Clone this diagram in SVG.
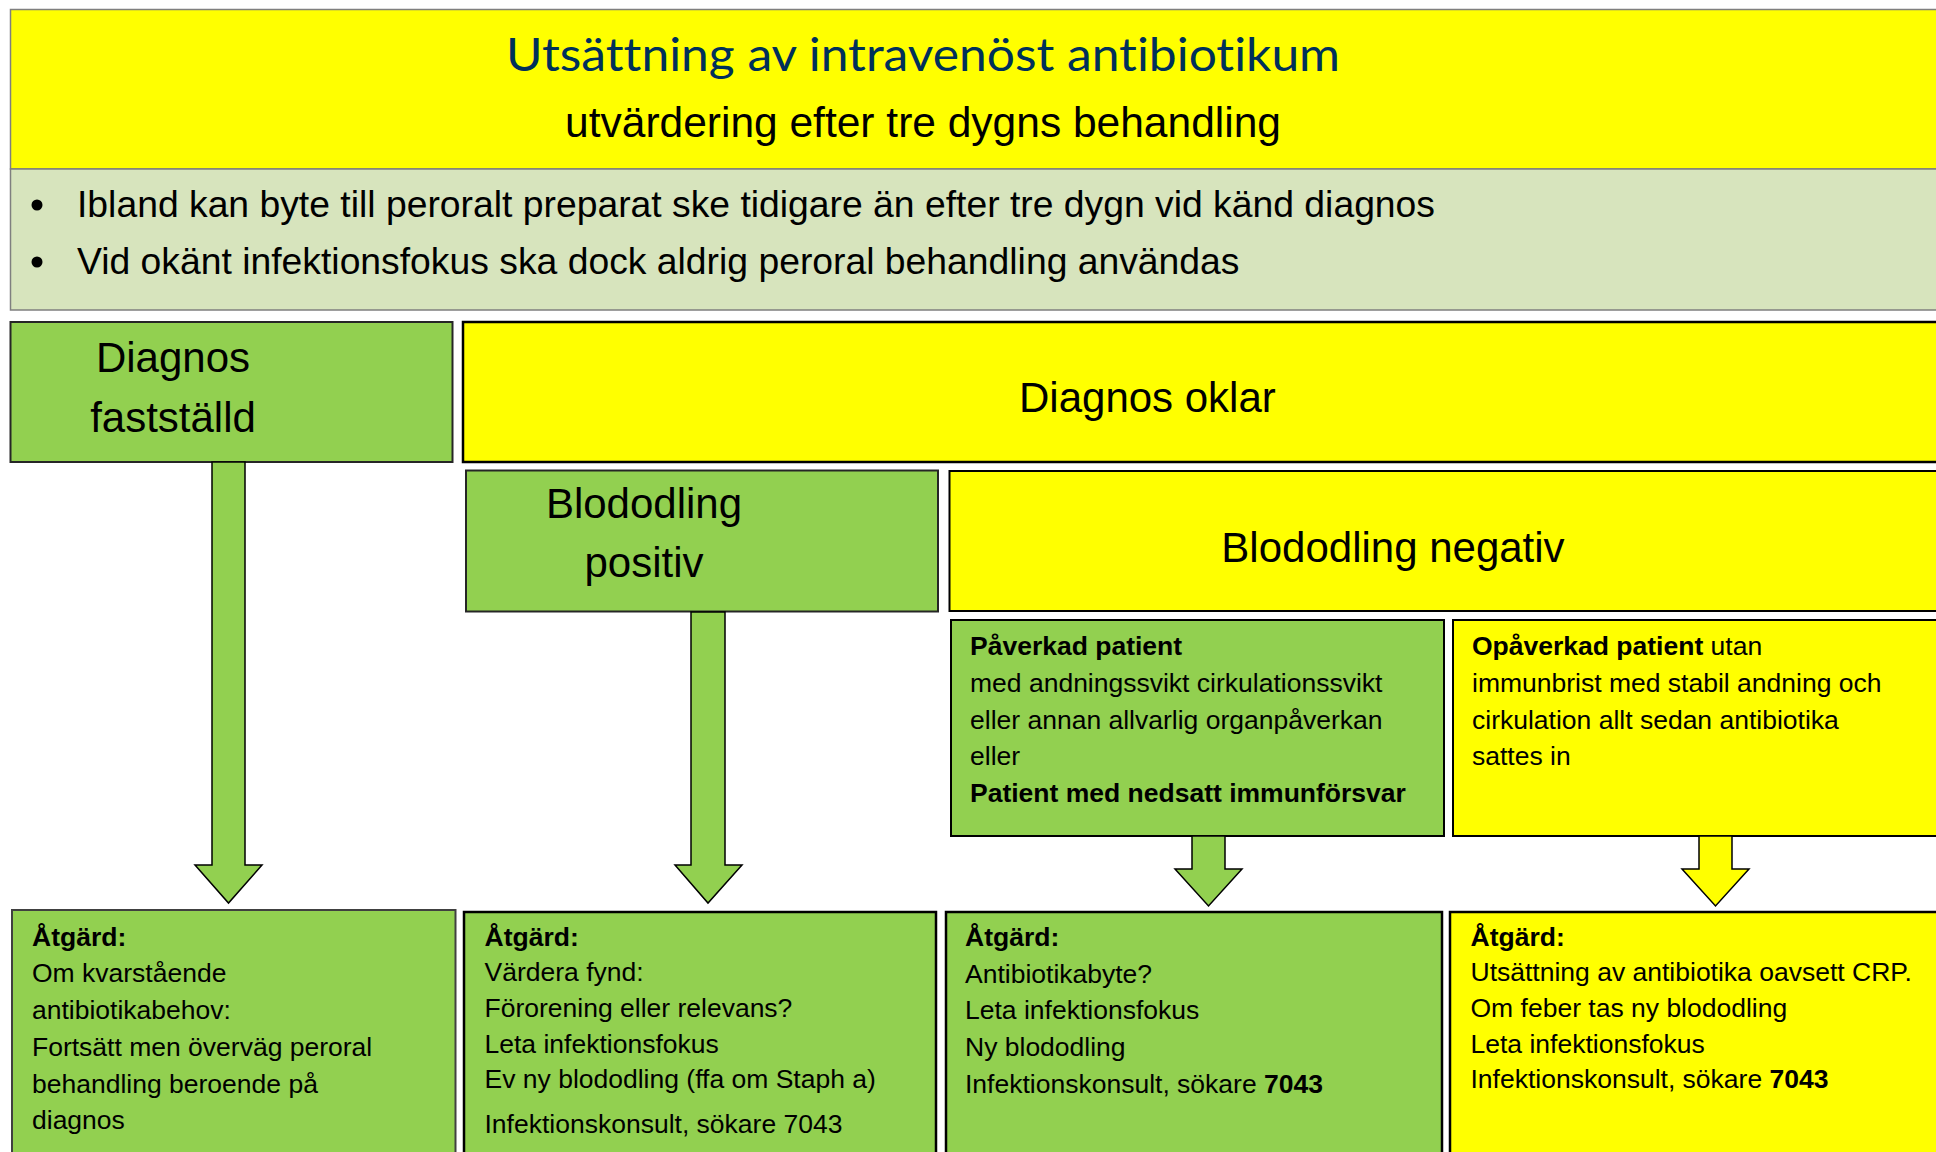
<svg xmlns="http://www.w3.org/2000/svg" width="1936" height="1152" viewBox="0 0 1936 1152">
<style>
  .t { font-family: "Liberation Sans", Arial, sans-serif; fill: #000; }
  .big { font-size: 42px; }
  .mid { font-size: 26.5px; }
  .b { font-weight: bold; }
  .green { fill: #92d050; }
  .yellow { fill: #ffff00; }
  .arrow { stroke: #000; stroke-width: 1.5; stroke-linejoin: miter; }
</style>
<rect x="0" y="0" width="1936" height="1152" fill="#ffffff"/>

<g id="title">
  <rect x="10.5" y="9.5" width="1940" height="159.5" fill="#ffff00" stroke="#7f7f7f" stroke-width="1.5"/>
  <text x="923" y="71" text-anchor="middle" font-family="Lato, 'Open Sans', sans-serif" font-size="46" fill="#00305a" style="font-variant-ligatures: none; font-feature-settings: 'liga' 0, 'dlig' 0;" textLength="834" lengthAdjust="spacingAndGlyphs">Utsättning av intravenöst antibiotikum</text>
  <text class="t" x="923" y="137" text-anchor="middle" font-size="42.5">utvärdering efter tre dygns behandling</text>
</g>

<g id="info">
  <rect x="10.5" y="169" width="1940" height="141" fill="#d7e4bd" stroke="#7f7f7f" stroke-width="1.5"/>
  <circle cx="37" cy="205" r="5.5" fill="#000"/>
  <text class="t" x="77" y="217" font-size="37.3">Ibland kan byte till peroralt preparat ske tidigare än efter tre dygn vid känd diagnos</text>
  <circle cx="37" cy="262" r="5.5" fill="#000"/>
  <text class="t" x="77" y="274" font-size="37.3">Vid okänt infektionsfokus ska dock aldrig peroral behandling användas</text>
</g>

<g id="diagnos-faststalld">
  <rect class="green" x="10.5" y="322" width="442" height="140" stroke="#262626" stroke-width="2"/>
  <text class="t big" x="173" y="372" text-anchor="middle">Diagnos</text>
  <text class="t big" x="173" y="432" text-anchor="middle">fastställd</text>
</g>

<g id="diagnos-oklar">
  <rect class="yellow" x="463" y="322" width="1480" height="140" stroke="#000" stroke-width="2.5"/>
  <text class="t big" x="1019" y="412">Diagnos oklar</text>
</g>

<g id="blododling-positiv">
  <rect class="green" x="466" y="470.5" width="472" height="141" stroke="#262626" stroke-width="2"/>
  <text class="t big" x="644" y="518" text-anchor="middle">Blododling</text>
  <text class="t big" x="644" y="577" text-anchor="middle">positiv</text>
</g>

<g id="blododling-negativ">
  <rect class="yellow" x="949.5" y="471" width="1000" height="140" stroke="#000" stroke-width="2"/>
  <text class="t big" x="1393" y="562" text-anchor="middle">Blododling negativ</text>
</g>

<g id="paverkad">
  <rect class="green" x="951" y="620" width="493" height="216" stroke="#000" stroke-width="2"/>
  <text class="t mid b" x="970" y="655">Påverkad patient</text>
  <text class="t mid" x="970" y="692">med andningssvikt cirkulationssvikt</text>
  <text class="t mid" x="970" y="729">eller annan allvarlig organpåverkan</text>
  <text class="t mid" x="970" y="765">eller</text>
  <text class="t mid b" x="970" y="802">Patient med nedsatt immunförsvar</text>
</g>

<g id="opaverkad">
  <rect class="yellow" x="1453" y="620" width="500" height="216" stroke="#000" stroke-width="2"/>
  <text class="t mid" x="1472" y="655"><tspan class="b">Opåverkad patient</tspan> utan</text>
  <text class="t mid" x="1472" y="692">immunbrist med stabil andning och</text>
  <text class="t mid" x="1472" y="729">cirkulation allt sedan antibiotika</text>
  <text class="t mid" x="1472" y="765">sattes in</text>
</g>

<g id="atgard-1">
  <rect class="green" x="12" y="910" width="443.5" height="260" stroke="#404040" stroke-width="2"/>
  <text class="t mid b" x="32" y="946">Åtgärd:</text>
  <text class="t mid" x="32" y="982">Om kvarstående</text>
  <text class="t mid" x="32" y="1019">antibiotikabehov:</text>
  <text class="t mid" x="32" y="1056">Fortsätt men överväg peroral</text>
  <text class="t mid" x="32" y="1093">behandling beroende på</text>
  <text class="t mid" x="32" y="1129">diagnos</text>
</g>

<g id="atgard-2">
  <rect class="green" x="464" y="912" width="472" height="260" stroke="#000" stroke-width="2.5"/>
  <text class="t mid b" x="484.5" y="946">Åtgärd:</text>
  <text class="t mid" x="484.5" y="981">Värdera fynd:</text>
  <text class="t mid" x="484.5" y="1017">Förorening eller relevans?</text>
  <text class="t mid" x="484.5" y="1053">Leta infektionsfokus</text>
  <text class="t mid" x="484.5" y="1088">Ev ny blododling (ffa om Staph a)</text>
  <text class="t mid" x="484.5" y="1133">Infektionskonsult, sökare 7043</text>
</g>

<g id="atgard-3">
  <rect class="green" x="946" y="912" width="496" height="260" stroke="#000" stroke-width="2.5"/>
  <text class="t mid b" x="965" y="946">Åtgärd:</text>
  <text class="t mid" x="965" y="983">Antibiotikabyte?</text>
  <text class="t mid" x="965" y="1019">Leta infektionsfokus</text>
  <text class="t mid" x="965" y="1056">Ny blododling</text>
  <text class="t mid" x="965" y="1093">Infektionskonsult, sökare <tspan class="b">7043</tspan></text>
</g>

<g id="atgard-4">
  <rect class="yellow" x="1450" y="912" width="500" height="260" stroke="#000" stroke-width="2.5"/>
  <text class="t mid b" x="1470.5" y="946">Åtgärd:</text>
  <text class="t mid" x="1470.5" y="981">Utsättning av antibiotika oavsett CRP.</text>
  <text class="t mid" x="1470.5" y="1017">Om feber tas ny blododling</text>
  <text class="t mid" x="1470.5" y="1053">Leta infektionsfokus</text>
  <text class="t mid" x="1470.5" y="1088">Infektionskonsult, sökare <tspan class="b">7043</tspan></text>
</g>

<g id="connectors">
  <polygon class="arrow green" points="212,462 245,462 245,865 262,865 228.5,903 195,865 212,865"/>
  <polygon class="arrow green" points="691,612 725,612 725,865 742,865 708,903 675,865 691,865"/>
  <polygon class="arrow green" points="1192,836 1225,836 1225,869 1242,869 1208.5,906 1175,869 1192,869"/>
  <polygon class="arrow yellow" points="1699,836 1732,836 1732,869 1749,869 1715.5,906 1682,869 1699,869"/>
</g>
</svg>
